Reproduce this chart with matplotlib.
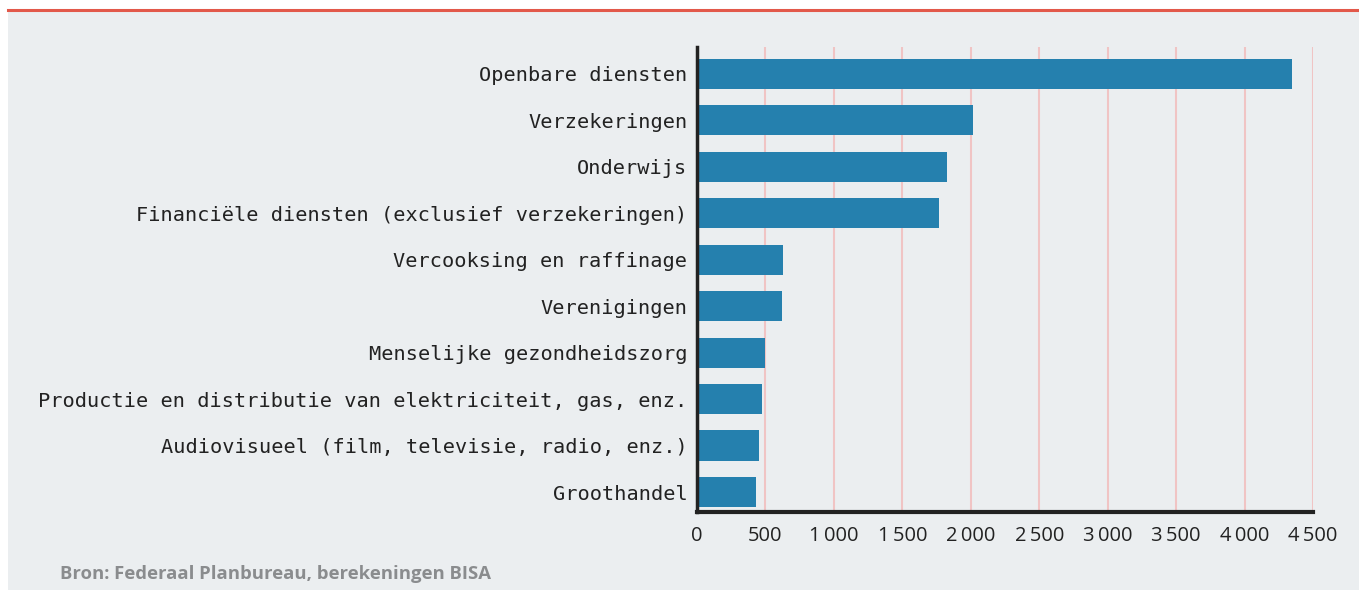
import matplotlib
matplotlib.use("Agg")
import matplotlib.pyplot as plt
from matplotlib.patches import Rectangle
from matplotlib.lines import Line2D
from matplotlib.ticker import FuncFormatter

categories = [
    "Openbare diensten",
    "Verzekeringen",
    "Onderwijs",
    "Financiële diensten (exclusief verzekeringen)",
    "Vercooksing en raffinage",
    "Verenigingen",
    "Menselijke gezondheidszorg",
    "Productie en distributie van elektriciteit, gas, enz.",
    "Audiovisueel (film, televisie, radio, enz.)",
    "Groothandel",
]
values = [4350, 2015, 1825, 1765, 625, 620, 497, 475, 453, 431]
xticks = [0, 500, 1000, 1500, 2000, 2500, 3000, 3500, 4000, 4500]
source = "Bron: Federaal Planbureau, berekeningen BISA"

W, H = 1359, 590
fig = plt.figure(figsize=(W / 100, H / 100), dpi=100)
fig.patch.set_facecolor("white")
bg = "#ebeef0"
fig.patches.append(Rectangle((8 / W, 0), 1 - 8 / W, 1 - 11 / H, transform=fig.transFigure,
                             facecolor=bg, edgecolor="none", zorder=-10))
fig.lines.append(Line2D([8 / W, 1], [1 - 10 / H, 1 - 10 / H], transform=fig.transFigure,
                        color="#e2584a", lw=2.2, zorder=-9))

left, right, top, bottom = 697, 1313, 47, 512
ax = fig.add_axes([left / W, 1 - bottom / H, (right - left) / W, (bottom - top) / H])
ax.set_zorder(5)
ax.set_facecolor(bg)
y = list(range(len(categories)))
ax.barh(y, values, height=0.65, color="#2580ae", zorder=3)
ax.set_xlim(0, 4500)
ax.set_ylim(9.43, -0.58)
ax.set_yticks(y)
ax.set_yticklabels(categories, fontfamily="DejaVu Sans Mono", fontsize=14.6, color="#222222")
ax.set_xticks(xticks)
ax.xaxis.set_major_formatter(FuncFormatter(lambda v, p: f"{int(v):,}".replace(",", "\u2009")))
for lab in ax.get_xticklabels():
    lab.set_fontfamily(["Open Sans", "DejaVu Sans"])
    lab.set_fontsize(14.5)
    lab.set_color("#222222")
ax.tick_params(axis="both", length=0)
ax.tick_params(axis="y", pad=7)
ax.tick_params(axis="x", pad=10)
ax.grid(axis="x", color="#f0c4c4", lw=1.5, zorder=1)
ax.set_axisbelow(True)
for s in ["top", "right"]:
    ax.spines[s].set_visible(False)
ax.spines["left"].set_linewidth(2.5)
ax.spines["bottom"].set_linewidth(3)
ax.spines["left"].set_color("#222222")
ax.spines["bottom"].set_color("#222222")
ax.spines["left"].set_zorder(5)

fig.text(60 / W, 1 - 574 / H, source, fontfamily="Open Sans", fontweight="bold",
         fontsize=13.3, color="#8a8c8e", va="center", ha="left")

fig.savefig("out.png", dpi=100, facecolor=fig.get_facecolor())
